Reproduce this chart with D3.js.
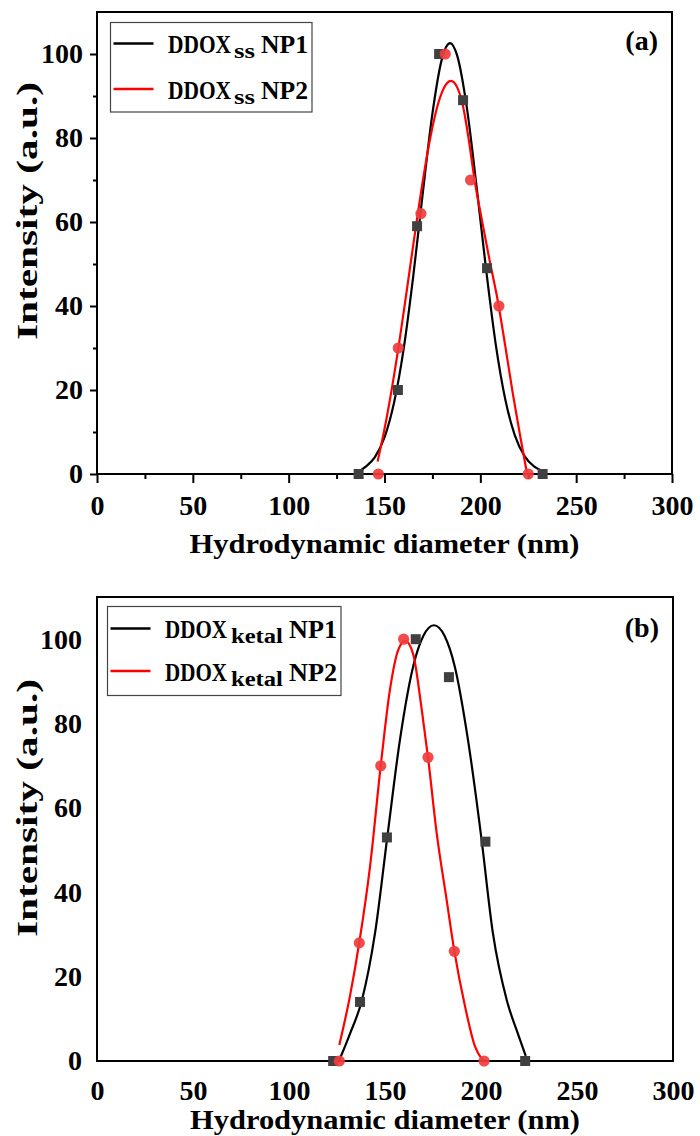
<!DOCTYPE html>
<html><head><meta charset="utf-8">
<script src="https://cdn.jsdelivr.net/npm/d3@7"></script>
<style>
body{margin:0;background:#fff}
svg text{font-family:"Liberation Serif","Times New Roman",serif;font-weight:bold;fill:#000}
</style></head>
<body><svg id="chart" width="700" height="1136"></svg>
<script>
// ---- tick values ----
const xTicks = [0, 50, 100, 150, 200, 250, 300];
const xMinorTicks = [25, 75, 125, 175, 225, 275];
const yTicks = [0, 20, 40, 60, 80, 100];
const yMinorTicks = [10, 30, 50, 70, 90];

// ---- panel (a) measured points ----
const aNP1x = [136.5, 157, 167, 178.5, 191, 203.5, 232.5];
const aNP1y = [0, 20, 59, 100, 89, 49, 0];
const aNP2x = [146.8, 157.2, 169, 181.7, 194.9, 209.7, 225];
const aNP2y = [0, 30, 62, 100, 70, 40, 0];
// ---- panel (a) fitted curves ----
const aFit1x = [136.5, 140, 145, 150, 155, 160, 165, 170, 175, 180, 184.2, 188, 193, 198, 203, 208, 213, 218, 223, 228, 232];
const aFit1y = [0.5, 1.7, 4.0, 8.7, 17.0, 29.8, 47.1, 67.0, 85.8, 98.9, 102.6, 99.5, 87.1, 68.6, 48.7, 31.0, 17.8, 9.2, 4.3, 1.8, 0.8];
const aFit2x = [146.4, 150, 154, 158, 162, 166, 170, 174, 178, 182, 184.7, 188, 191, 194, 197, 201, 205, 209, 213, 217, 221, 224.2];
const aFit2y = [3.0, 10.7, 20.8, 32.3, 44.9, 57.7, 69.8, 80.3, 88.2, 92.7, 93.6, 92.0, 87.5, 79.5, 70.0, 60.0, 50.5, 41.5, 30.5, 19.0, 8.5, 0.5];

// ---- panel (b) measured points ----
const bNP1x = [123, 137, 151, 166, 183.3, 202.3, 223];
const bNP1y = [0, 14, 53, 100, 91, 52, 0];
const bNP2x = [126.2, 136.6, 147.8, 159.7, 172.4, 186.1, 201.6];
const bNP2y = [0, 28, 70, 100, 72, 26, 0];
// ---- panel (b) fitted curves ----
const bFit1x = [126, 131.8, 137.9, 144.8, 151.2, 157.8, 164.7, 170.0, 175.5, 181.0, 186.3, 193.2, 200.1, 206.2, 213.5, 219.2, 223.3];
const bFit1y = [0, 6.5, 14.3, 30.3, 53.1, 76.2, 93.6, 100.8, 103.3, 100.8, 93.6, 76.2, 53.2, 30.3, 14.3, 6.5, 1.2];
const bFit2x = [126.2, 131.8, 136.6, 142.2, 147.8, 152.6, 157.0, 160.6, 164.7, 169.1, 172.4, 176.9, 182.1, 186.1, 191.7, 196.9, 200.9];
const bFit2y = [3.8, 15.5, 28.1, 46.1, 70.1, 88.1, 97.6, 99.6, 96.4, 83.4, 72.0, 54.1, 38.2, 26.1, 12.9, 3.4, 0.2];

const zip = (xs, ys) => xs.map((v, i) => [v, ys[i]]);
const svg = d3.select('#chart');

// text fitted to a given width by horizontal scaling
function fitText(g, str, px, py, size, width) {
  const t = g.append('text').attr('font-size', size).attr('transform', `translate(${px},${py})`).text(str);
  const len = t.node().getComputedTextLength();
  t.attr('transform', `translate(${px},${py}) scale(${width / len},1)`);
  return t;
}

function drawPanel(cfg) {
  const g = svg.append('g');
  const x = d3.scaleLinear().domain([0, 300]).range([cfg.left, cfg.right]);
  const y = d3.scaleLinear().domain([0, 110]).range([cfg.bottom, cfg.top]);

  // axes
  const xa = g.append('g').attr('transform', `translate(0,${cfg.bottom})`)
    .call(d3.axisBottom(x).tickValues(xTicks).tickSize(cfg.ticks ? 9 : 0).tickSizeOuter(0)
      .tickPadding(cfg.ticks ? 12 : 19).tickFormat(d3.format('d')));
  xa.select('.domain').remove();
  xa.selectAll('line').attr('stroke', '#000').attr('stroke-width', 2);
  xa.selectAll('text').attr('font-size', 28).attr('fill', '#000')
    .style('font-family', '"Liberation Serif",serif').style('font-weight', 'bold');

  const ya = g.append('g').attr('transform', `translate(${cfg.left},0)`)
    .call(d3.axisLeft(y).tickValues(yTicks).tickSize(cfg.ticks ? 7 : 0).tickSizeOuter(0)
      .tickPadding(cfg.ticks ? 7 : 15).tickFormat(d3.format('d')));
  ya.select('.domain').remove();
  ya.selectAll('line').attr('stroke', '#000').attr('stroke-width', 2);
  ya.selectAll('text').attr('font-size', 28).attr('fill', '#000')
    .style('font-family', '"Liberation Serif",serif').style('font-weight', 'bold');

  if (cfg.ticks) {
    const xm = g.append('g').attr('transform', `translate(0,${cfg.bottom})`)
      .call(d3.axisBottom(x).tickValues(xMinorTicks).tickSize(5).tickSizeOuter(0).tickFormat(''));
    xm.select('.domain').remove();
    xm.selectAll('line').attr('stroke', '#000').attr('stroke-width', 2);
    const ym = g.append('g').attr('transform', `translate(${cfg.left},0)`)
      .call(d3.axisLeft(y).tickValues(yMinorTicks).tickSize(4).tickSizeOuter(0).tickFormat(''));
    ym.select('.domain').remove();
    ym.selectAll('line').attr('stroke', '#000').attr('stroke-width', 2);
  }

  // frame
  g.append('rect').attr('x', cfg.left).attr('y', cfg.top)
    .attr('width', cfg.right - cfg.left).attr('height', cfg.bottom - cfg.top)
    .attr('fill', 'none').attr('stroke', '#000').attr('stroke-width', 2);

  // curves
  const line = d3.line().x(d => x(d[0])).y(d => y(d[1])).curve(d3.curveMonotoneX);
  g.append('path').datum(zip(cfg.fit1x, cfg.fit1y)).attr('d', line)
    .attr('fill', 'none').attr('stroke', '#000').attr('stroke-width', 2.2);
  g.append('path').datum(zip(cfg.fit2x, cfg.fit2y)).attr('d', line)
    .attr('fill', 'none').attr('stroke', '#ff0000').attr('stroke-width', 2.2);

  // markers
  g.selectAll('rect.sq').data(zip(cfg.p1x, cfg.p1y)).join('rect').attr('class', 'sq')
    .attr('x', d => x(d[0]) - 5).attr('y', d => y(d[1]) - 5).attr('width', 10).attr('height', 10)
    .attr('fill', '#404040');
  g.selectAll('circle.ci').data(zip(cfg.p2x, cfg.p2y)).join('circle').attr('class', 'ci')
    .attr('cx', d => x(d[0])).attr('cy', d => y(d[1])).attr('r', 5.6)
    .attr('fill', '#f03c3c').attr('fill-opacity', 0.92);

  // axis titles
  g.append('text').attr('x', (cfg.left + cfg.right) / 2).attr('y', cfg.xTitleY)
    .attr('text-anchor', 'middle').attr('font-size', 28)
    .attr('textLength', 390).attr('lengthAdjust', 'spacingAndGlyphs')
    .text('Hydrodynamic diameter (nm)');
  g.append('text').attr('transform', `translate(37,${cfg.yTitleC}) rotate(-90)`)
    .attr('text-anchor', 'middle').attr('font-size', 30)
    .attr('textLength', 258).attr('lengthAdjust', 'spacingAndGlyphs')
    .text('Intensity (a.u.)');

  // panel label
  g.append('text').attr('x', cfg.right - 14).attr('y', cfg.top + cfg.labelDy)
    .attr('text-anchor', 'end').attr('font-size', 28).text(cfg.label);

  // legend
  const L = cfg.legend;
  g.append('rect').attr('x', L.x).attr('y', L.y).attr('width', L.w).attr('height', L.h)
    .attr('fill', '#fff').attr('stroke', '#444').attr('stroke-width', 1.2);
  cfg.names.forEach((nm, i) => {
    const ly = L.y + L.row0 + i * L.step;
    const base = ly + 9.5;
    g.append('line').attr('x1', L.x + 3).attr('x2', L.x + 43).attr('y1', ly).attr('y2', ly)
      .attr('stroke', i === 0 ? '#000' : '#ff0000').attr('stroke-width', 2.4);
    fitText(g, 'DDOX', L.p[0], base, 26, L.w0);
    fitText(g, nm.sub, L.p[1], base + 5, 20, L.w1);
    fitText(g, nm.tail, L.p[2], base, 26, L.w2);
  });
}

drawPanel({
  left: 97, right: 672, top: 12, bottom: 474, ticks: true, label: '(a)', labelDy: 38,
  xTitleY: 553, yTitleC: 211,
  p1x: aNP1x, p1y: aNP1y, p2x: aNP2x, p2y: aNP2y,
  fit1x: aFit1x, fit1y: aFit1y, fit2x: aFit2x, fit2y: aFit2y,
  legend: {x: 110.5, y: 22.5, w: 201.5, h: 89.5, row0: 21, step: 45.5,
           p: [168, 234, 261], w0: 63, w1: 21, w2: 47},
  names: [{sub: 'ss', tail: 'NP1'}, {sub: 'ss', tail: 'NP2'}]
});
drawPanel({
  left: 97, right: 673, top: 597, bottom: 1061, ticks: false, label: '(b)', labelDy: 40,
  xTitleY: 1129, yTitleC: 808,
  p1x: bNP1x, p1y: bNP1y, p2x: bNP2x, p2y: bNP2y,
  fit1x: bFit1x, fit1y: bFit1y, fit2x: bFit2x, fit2y: bFit2y,
  legend: {x: 107.5, y: 606.5, w: 233.5, h: 89, row0: 22, step: 42.5,
           p: [165, 231, 289], w0: 62, w1: 52, w2: 48},
  names: [{sub: 'ketal', tail: 'NP1'}, {sub: 'ketal', tail: 'NP2'}]
});
</script></body></html>
